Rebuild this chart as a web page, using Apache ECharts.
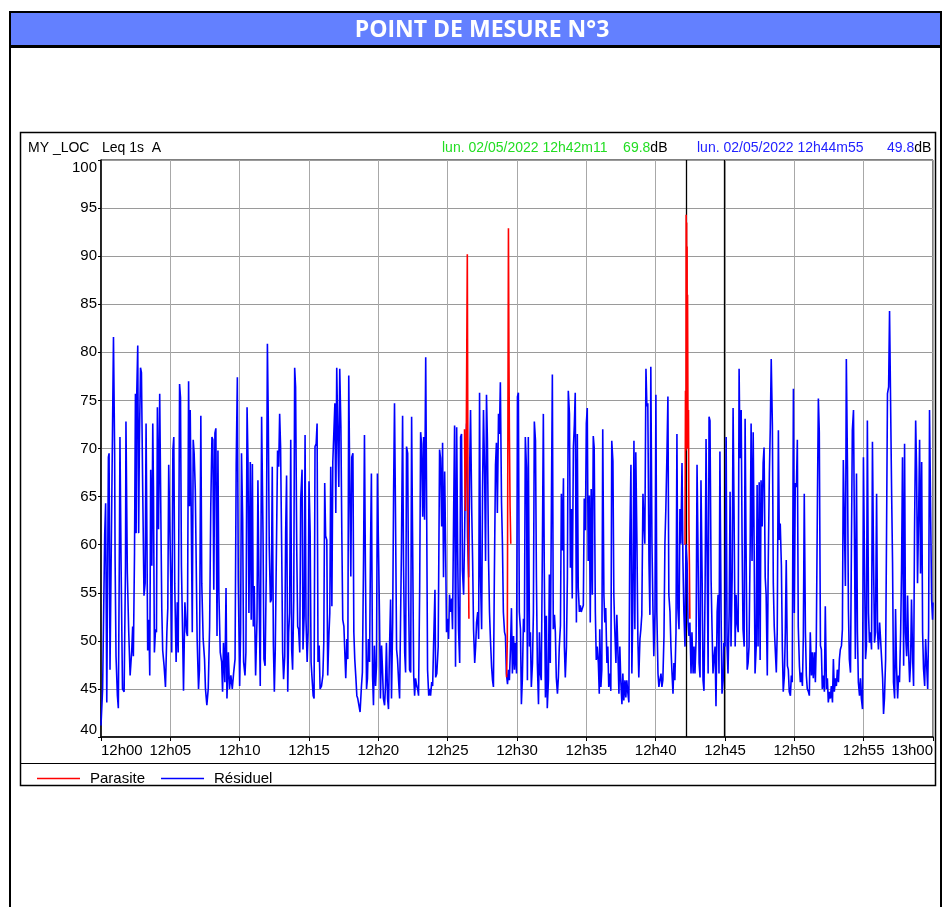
<!DOCTYPE html>
<html>
<head>
<meta charset="utf-8">
<script src="https://cdn.jsdelivr.net/npm/echarts@6/dist/echarts.min.js"></script>
<style>
html,body{margin:0;padding:0;background:#fff;}
#c{width:943px;height:907px;}
</style>
</head>
<body>
<div id="c"></div>
<script>
// ---- data (seconds from 12h00, dB) ----
const titleText = 'POINT DE MESURE N°3';
const headerLeft = 'MY _LOC';
const headerMeas = 'Leq 1s  A';
const cursor1 = {time: 2531, label: 'lun. 02/05/2022 12h42m11', level: '69.8'};
const cursor2 = {time: 2695, label: 'lun. 02/05/2022 12h44m55', level: '49.8'};
const yTicks = [40, 100, 5];          // min, max, step
const xTicks = [0, 3600, 300];        // 12h00 .. 13h00 every 5 min
const seriesNames = ['Parasite', 'Résiduel'];

const residuelA = [[0,41.2],[7,45],[16,61],[20,64.3],[25,43.6],[32,69.1],[35,69.5],[39,47],[46,46.9],[54,81.6],[59,69.5],[61,58.4],[65,48.4],[71,44.3],[75,43],[80,61],[82,71.2],[87,57.8],[93,45],[100,44.7],[106,57.8],[108,72.8],[114,57],[120,50.9],[126,46.4],[133,49],[137,51.5],[140,48.4],[145,59.1],[149,75.7],[152,61.2],[155,76],[159,80.7],[163,61.2],[166,70.5],[171,78.4],[175,77.9],[181,64.7],[186,54.7],[191,56],[195,72.6],[199,59.8],[202,49],[207,52.2],[211,46.4],[215,67.8],[220,57.8],[224,72.6],[227,66],[231,48.8],[236,51.2],[240,50.9],[244,74.3],[249,61.6],[254,75.7],[259,63],[263,53.3],[267,49],[273,47.4],[279,45.2],[285,50.9],[289,53.4],[293,68.3],[298,68.4],[302,56],[306,48.8],[311,69.8],[315,71.2],[319,56],[325,47.8],[330,54],[334,48.8],[340,76.7],[344,75.3],[348,57.8],[353,50.9],[357,44.8],[363,54],[370,50.9],[374,50.5],[379,77],[383,64],[386,74],[390,64.3],[395,50.9],[399,70.9],[403,69.5],[408,65.7],[412,65.7],[416,50.2],[422,45],[426,47],[432,73.4],[436,56],[442,50.2],[448,48.1],[452,45],[458,43.3],[464,45],[470,51.5],[475,64],[480,71.2],[484,70.9],[488,55.3],[493,71.6],[497,72.1],[502,50.5],[506,69.8],[510,55],[516,48.8],[522,47.8],[526,44.7],[530,49.8],[536,45.7],[541,55.5],[545,44],[551,48.8],[556,45],[562,46.4],[568,45],[574,46.7],[580,48.1],[585,68.4],[590,77.4],[594,56.4],[600,45.3],[604,50.9],[608,69.5],[613,62.6],[617,47.8],[623,46.4],[627,48.8],[632,74.3],[636,68.8],[640,52.9],[646,68.6],[650,52.2],[655,68.4],[659,51.5],[663,55.7],[669,46.4],[675,52.2],[679,66.7],[684,55],[689,45.3],[695,73.3],[701,61.2],[705,48.1],[710,47.4],[715,56.7],[720,80.9],[724,72.6],[728,59.8],[733,54]];

const residuelB = [[737,54.3],[741,68.1],[746,49.5],[750,44.7],[754,49],[760,48.8],[764,69.8],[769,68.1],[773,73.6],[777,70.2],[782,59.1],[786,48.8],[790,46],[795,48.4],[799,61.2],[803,67.2],[808,44.7],[812,50.9],[816,52.9],[821,70.9],[825,49.1],[829,47],[834,54.3],[838,78.4],[842,76.4],[847,59.5],[851,51.5],[855,51.2],[860,48.8],[864,64.7],[870,67.8],[874,49.1],[879,52.6],[883,71.4],[887,52.2],[892,47.8],[896,50.9],[900,66.6],[905,61.2],[909,47.8],[913,46.2],[918,44.3],[922,44],[926,70.2],[931,70.5],[935,72.6],[939,47.8],[944,49.5],[948,45],[954,45.3],[960,46.4],[964,49.8],[968,66.4],[972,60.9],[977,60.5],[981,46.4],[986,50.5],[990,52.9],[994,68.1],[999,53.6],[1003,68.6],[1007,68.8],[1012,74.7],[1016,63.3],[1020,78.4],[1025,70.9],[1029,66],[1033,78.3],[1038,72.2],[1042,61.2],[1046,52.2],[1051,51.5],[1055,48.8],[1059,46.1],[1064,50.2],[1068,48.1],[1072,77.6],[1077,64.7],[1081,56.7],[1085,69.1],[1090,69.5],[1094,50.9],[1098,48.1],[1103,46.1],[1107,44.3],[1111,44],[1116,43.3],[1121,42.6],[1127,45.3],[1131,46.7],[1136,58.4],[1140,71.4],[1144,57.8],[1149,45],[1153,46.1],[1157,50.2],[1162,47.8],[1166,59.1],[1170,67.4],[1175,46.4],[1179,43.3],[1183,49.5],[1188,45.3],[1192,47.4],[1196,67.4],[1201,67.4],[1205,52.6],[1209,44],[1214,49.5],[1218,47],[1222,44],[1227,43.3],[1231,45.3],[1235,49.8],[1240,44],[1244,42.9],[1248,48.8],[1253,54.3],[1257,44],[1262,51.9],[1266,65.3],[1270,74.7],[1274,64],[1279,49.1],[1283,48.1],[1288,45.7],[1292,44],[1296,43.8],[1300,59.5],[1305,73.4],[1309,57.8],[1314,48.8],[1318,46.7],[1322,70.2],[1327,69.5],[1331,54.3],[1335,47],[1340,46.7],[1344,73.3],[1348,61.2],[1353,46.4],[1357,44.3],[1361,46.1],[1366,45.3],[1370,45],[1374,44.3],[1379,55.7],[1383,71.7],[1387,70.5],[1392,62.9],[1396,71.2],[1400,62.6],[1405,79.5],[1409,64],[1413,47],[1418,44.3],[1422,45],[1426,44.3],[1431,45.7],[1435,45.3],[1439,49.5],[1445,55.3]];

const residuelC = [[1448,46.2],[1453,46.6],[1459,49.4],[1465,69.9],[1469,69],[1474,61.9],[1478,70.6],[1482,56.6],[1487,67.6],[1491,60.1],[1495,50.9],[1500,52.3],[1504,50.2],[1508,54.8],[1513,53],[1517,54.4],[1521,51.2],[1526,63.7],[1530,72.4],[1534,47.3],[1539,72.2],[1543,60.1],[1547,51.2],[1552,47.7],[1556,71.2],[1560,71.5],[1564,57.3],[1569,54.8],[1573,60.5],[1578,69.7],[1582,72.6],[1586,60.8],[1591,56.6],[1595,67.6],[1599,74],[1604,63.7],[1608,58.3],[1612,51.2],[1617,47.7],[1621,49.4],[1625,51.9],[1630,53],[1634,50.2],[1638,75.8],[1642,56.6],[1647,51.2],[1651,65.8],[1655,74],[1660,67.2],[1664,58.3],[1668,75.6],[1672,70.8],[1677,58.3],[1681,53],[1685,50.2],[1690,47.3],[1694,45.9],[1698,45.2],[1702,56.6],[1707,68.3],[1711,70.6],[1715,63.3],[1720,73.6],[1724,71.5],[1728,76.9],[1733,64.4],[1737,60.1],[1741,53],[1746,50.9],[1750,50.5],[1754,46.6],[1759,45.5],[1763,47],[1767,45.9],[1772,49.4],[1776,53.4],[1780,46.6],[1785,50.5],[1789,47],[1793,49.8],[1798,46.6],[1802,75.4],[1806,75.8],[1810,53],[1815,51.2],[1819,43.4],[1823,45.9],[1828,52.3],[1832,50.9],[1836,71.2],[1841,68],[1845,45.9],[1849,71.2],[1854,49.4],[1858,50.9],[1862,45.2],[1867,47.7],[1871,53],[1875,72.8],[1880,70.8],[1884,56.6],[1888,47.7],[1893,43.4],[1897,50.9],[1901,46.6],[1905,45.9],[1910,60.1],[1914,73.6],[1918,57.6],[1923,44.1],[1927,52.6],[1931,43],[1936,45.9],[1940,56.9],[1944,47.7],[1949,64.4],[1953,77.7],[1957,51.2],[1962,52.7],[1966,50.9],[1970,46.2],[1975,44.5],[1979,46.2],[1983,49.4],[1988,51.6],[1992,65.3],[1996,59.4],[2001,66.9],[2005,49.4],[2009,46.2],[2014,49.4],[2018,56.6],[2022,76],[2027,73.6],[2031,57.6],[2035,63.7],[2039,54.4],[2044,70.1],[2048,72.4],[2052,75.8],[2057,51.9],[2061,71.5],[2065,55.5],[2070,53],[2074,53.7],[2078,53],[2083,53.4],[2087,53.7],[2091,64.8],[2096,61.5],[2100,72.6],[2104,74.2],[2108,58.3],[2113,65.1],[2117,51.9],[2121,65.8],[2126,54.8],[2130,71.3],[2134,70.1],[2139,53],[2143,48],[2147,49.4],[2152,47.7],[2156,44.5]];

const residuelD = [[2158,51.2],[2163,45.2],[2167,47],[2171,72],[2176,54.8],[2180,51.9],[2184,53.4],[2189,47.7],[2193,49.4],[2197,45.2],[2202,46.6],[2206,44.8],[2210,70.8],[2215,68.7],[2219,54.8],[2223,51.2],[2228,47.7],[2232,52.7],[2236,49.4],[2241,44.5],[2245,49.4],[2249,45.9],[2254,43.4],[2258,46.6],[2262,43.8],[2267,45.9],[2271,44.1],[2275,45.9],[2280,44.5],[2284,43.6],[2288,60.1],[2293,68.3],[2297,46.6],[2301,53],[2306,70.8],[2310,51.2],[2314,69.6],[2319,60.1],[2323,50.2],[2327,46.2],[2332,50.2],[2336,51.2],[2340,52.7],[2345,65.3],[2349,62.3],[2353,60.1],[2358,78.3],[2362,74.4],[2366,74.7],[2371,58.3],[2375,52.7],[2379,78.5],[2384,60.1],[2388,53.7],[2392,48.4],[2397,53],[2401,75.6],[2405,53],[2410,46.6],[2414,45.2],[2418,45.9],[2423,46.6],[2427,45.2],[2431,45.9],[2436,50.5],[2440,60.1],[2444,63.7],[2449,69.6],[2453,75.4],[2457,54.8],[2462,53],[2466,49.4],[2470,47],[2475,44.5],[2479,47.7],[2483,45.9],[2488,50.9],[2492,71.5],[2496,53.4],[2501,51.2],[2505,63.7],[2509,60.1],[2514,68.5],[2518,58.3],[2522,53],[2527,49.4],[2531,60.1],[2536,58],[2540,52],[2544,50.5],[2548,51.9],[2553,46.6],[2557,50.9],[2562,46.6],[2566,49.4],[2570,46.6],[2575,50.2],[2579,68.3],[2583,60.1],[2588,47.7],[2592,46.2],[2596,66.7],[2601,56.6],[2605,45.9],[2609,44.8],[2614,55.8],[2618,71],[2622,60.1],[2627,46.6],[2631,73.3],[2635,72.9],[2640,56.2],[2644,51.2],[2648,46.6],[2653,48.4],[2657,49.4],[2661,43.2],[2666,53],[2670,54.8],[2674,46.6],[2678,69.7],[2683,53],[2687,44.5],[2692,45.9],[2695,49.8],[2700,49.4],[2705,71.2],[2709,49.4],[2713,46.6],[2718,53],[2722,65.5],[2726,49.4],[2731,56.6],[2735,74.2],[2739,63.7],[2744,49.4],[2748,54.8],[2752,51.9],[2757,50.9],[2761,78.3],[2765,69],[2770,74],[2774,60.1],[2778,51.2],[2783,49.4],[2787,73.1],[2791,60.1],[2796,47],[2800,47.7],[2804,49.4],[2809,60.1],[2813,72.6],[2817,58.3],[2822,71.7],[2826,60.1],[2830,46.6],[2835,49.4],[2839,66.2],[2843,49.4],[2848,66.5],[2852,48],[2856,66.7],[2861,61.9],[2865,68.5],[2869,70.1],[2874,56.6],[2878,54.8]];

const residuelE = [[2883,46.4],[2887,57.8],[2892,67.4],[2896,72.2],[2900,79.3],[2905,72.4],[2909,56],[2913,51.5],[2918,48.8],[2922,46.7],[2926,50.9],[2931,71.9],[2935,60.5],[2939,62.2],[2944,57.8],[2948,49.5],[2952,44.7],[2957,46.4],[2961,50.9],[2965,58.4],[2970,47.4],[2974,47],[2978,44.7],[2983,44.3],[2987,46.4],[2991,45.7],[2996,76.2],[3000,52.9],[3004,66.4],[3009,66],[3013,70.9],[3017,51.5],[3022,47.4],[3026,45.7],[3030,46.7],[3035,45.3],[3039,50.5],[3043,65.3],[3048,50.9],[3052,46.4],[3056,45],[3061,44.7],[3065,44.3],[3069,50.9],[3074,46.4],[3078,48.8],[3082,46.1],[3087,48.8],[3091,45.7],[3095,49.8],[3100,64.7],[3104,75.2],[3108,71.7],[3113,49.5],[3117,49.1],[3121,45],[3126,46.4],[3130,44.7],[3134,53.6],[3139,45],[3143,46.1],[3147,43.6],[3152,44.7],[3156,44],[3160,45.3],[3165,43.6],[3169,48.1],[3173,44.7],[3178,46.1],[3182,45.3],[3186,47],[3191,45.7],[3195,48.1],[3199,49.1],[3204,49.5],[3208,51.2],[3212,68.8],[3217,68.8],[3221,55.7],[3225,79.3],[3230,68.1],[3234,53.3],[3238,48.1],[3243,46.7],[3247,59.8],[3251,71.9],[3256,74],[3260,61.2],[3264,48.1],[3269,67.4],[3273,50.9],[3277,45.7],[3282,44.3],[3286,46.1],[3290,44],[3295,42.9],[3299,69.1],[3303,59.5],[3308,48.1],[3312,49.5],[3316,72.9],[3321,52.9],[3325,49.8],[3330,50.9],[3334,49.1],[3338,70.7],[3343,57.8],[3347,49.8],[3351,50.9],[3356,65.3],[3360,50.9],[3364,49.1],[3369,51.9],[3373,50.2],[3377,48.4],[3382,46.1],[3386,42.4],[3390,44],[3395,48.1],[3399,61.2],[3403,75.7],[3408,76.4],[3412,84.3],[3416,84.3],[3421,65.3],[3425,58.1],[3429,45.7],[3434,44],[3438,53.3],[3442,47.4],[3447,44],[3451,46.4],[3455,45.7],[3460,50.9],[3464,57.4],[3468,69.1],[3473,47.4],[3477,70.5],[3481,50.9],[3486,48.4],[3490,54.7],[3494,49.1],[3499,45.7],[3503,47.8],[3507,54.3],[3512,48.1],[3516,45.3],[3520,61.2],[3525,72.9],[3529,67.8],[3533,56],[3538,63.3],[3542,70.9],[3546,57],[3551,68.6],[3555,50.9],[3559,47.1],[3564,45.3],[3568,50.2],[3572,47.8],[3577,45],[3581,51.2],[3585,74],[3590,62.9],[3594,54.3],[3598,52.2],[3600,54]];

const parasite1 = [[1573,72],[1575,66],[1577,63.5],[1580,69],[1585,90.2],[1588,64],[1590,58],[1592,52.3]];
const parasite2 = [[1755,46.2],[1758,50],[1763,92.9],[1765,80],[1767,72],[1770,64],[1773,60.1]];
const parasite3 = [[2527,60],[2529,76],[2531,69.8],[2532,94.3],[2533,75],[2534,93.5],[2535,72],[2536,91],[2537,70],[2538,86],[2540,71],[2542,74],[2544,62],[2546,58],[2548,52.3]];

// ---- build ----
const residuel = residuelA.concat(residuelB, residuelC, residuelD, residuelE);
const parasite = parasite1.concat([[1600,'-']], parasite2, [[1780,'-']], parasite3);

function fmtTime(v){
  const m = Math.round(v/60);
  const h = 12 + Math.floor(m/60);
  const mm = m % 60;
  return h + 'h' + (mm < 10 ? '0' : '') + mm;
}

const FONT = '"Liberation Sans", Arial, sans-serif';
const chart = echarts.init(document.getElementById('c'), null, {renderer:'canvas'});

chart.setOption({
  animation: false,
  backgroundColor: '#fff',
  grid: {left: 101, right: 10, top: 160, bottom: 170, show: true, borderColor: '#000', borderWidth: 1, backgroundColor: 'transparent'},
  xAxis: {
    type: 'value', min: xTicks[0], max: xTicks[1], interval: xTicks[2],
    axisLine: {show: true, onZero: false, lineStyle: {color: '#000', width: 1.5}},
    axisTick: {show: true, length: 4, lineStyle: {color: '#000'}},
    axisLabel: {color: '#000', fontFamily: FONT, fontSize: 15, margin: 6, formatter: fmtTime,
                alignMinLabel: 'left', alignMaxLabel: 'right', showMinLabel: true, showMaxLabel: true},
    splitLine: {show: true, lineStyle: {color: '#a8a8a8', width: 1}}
  },
  yAxis: {
    type: 'value', min: yTicks[0], max: yTicks[1], interval: yTicks[2],
    axisLine: {show: true, lineStyle: {color: '#000', width: 1.5}},
    axisTick: {show: true, length: 3, lineStyle: {color: '#000'}},
    axisLabel: {color: '#000', fontFamily: FONT, fontSize: 15, margin: 4,
                verticalAlignMinLabel: 'bottom', verticalAlignMaxLabel: 'top'},
    splitLine: {show: true, lineStyle: {color: '#9a9a9a', width: 1}}
  },
  legend: {
    left: 32, top: 766, itemWidth: 43, itemHeight: 12, itemGap: 16,
    data: seriesNames,
    textStyle: {color: '#000', fontFamily: FONT, fontSize: 15, padding: [0,0,0,5]},
    icon: 'path://M0,5 L43,5 L43,6.3 L0,6.3 Z'
  },
  series: [
    {
      name: seriesNames[1], type: 'line', data: residuel, symbol: 'none', showSymbol: false,
      sampling: null, color: '#0000ff',
      lineStyle: {color: '#0000ff', width: 1.6}, z: 2,
      markLine: {
        silent: true, symbol: ['none','none'], label: {show: false}, z: 1,
        lineStyle: {color: '#000', width: 1.3, type: 'solid'},
        data: [{xAxis: cursor1.time}, {xAxis: cursor2.time}]
      }
    },
    {
      name: seriesNames[0], type: 'line', data: parasite, symbol: 'none', showSymbol: false,
      connectNulls: false, color: '#ff0000',
      lineStyle: {color: '#ff0000', width: 1.6}, z: 4
    }
  ],
  graphic: [
    {type: 'rect', z: -10, silent: true, shape: {x: 10, y: 12, width: 931, height: 905}, style: {fill: '#fff', stroke: '#000', lineWidth: 2}},
    {type: 'rect', z: -9, silent: true, shape: {x: 11, y: 13, width: 929, height: 33}, style: {fill: '#6380ff'}},
    {type: 'line', z: -8, silent: true, shape: {x1: 10, y1: 46.5, x2: 941, y2: 46.5}, style: {stroke: '#000', lineWidth: 3}},
    {type: 'text', z: 5, silent: true, x: 482, y: 30, style: {text: titleText, fill: '#fff', font: 'bold 23px "Open Sans", sans-serif', align: 'center', verticalAlign: 'middle'}},
    {type: 'rect', z: -7, silent: true, shape: {x: 20.5, y: 132.5, width: 915, height: 653}, style: {fill: null, stroke: '#000', lineWidth: 1.5}},
    {type: 'line', z: -7, silent: true, shape: {x1: 20, y1: 763.5, x2: 936, y2: 763.5}, style: {stroke: '#000', lineWidth: 1.2}},
    {type: 'text', z: 5, silent: true, x: 28, y: 148, style: {text: headerLeft, fill: '#000', font: '14px ' + FONT, verticalAlign: 'middle'}},
    {type: 'text', z: 5, silent: true, x: 102, y: 148, style: {text: headerMeas, fill: '#000', font: '14px ' + FONT, verticalAlign: 'middle'}},
    {type: 'text', z: 5, silent: true, x: 442, y: 148, style: {
      text: '{g|' + cursor1.label + '    ' + cursor1.level + '}{k|dB}',
      verticalAlign: 'middle',
      rich: {g: {fill: '#22dd22', font: '14px ' + FONT}, k: {fill: '#000', font: '14px ' + FONT}}
    }},
    {type: 'text', z: 5, silent: true, x: 697, y: 148, style: {
      text: '{b|' + cursor2.label + '      ' + cursor2.level + '}{k|dB}',
      verticalAlign: 'middle',
      rich: {b: {fill: '#2222ff', font: '14px ' + FONT}, k: {fill: '#000', font: '14px ' + FONT}}
    }}
  ]
});
</script>
</body>
</html>
